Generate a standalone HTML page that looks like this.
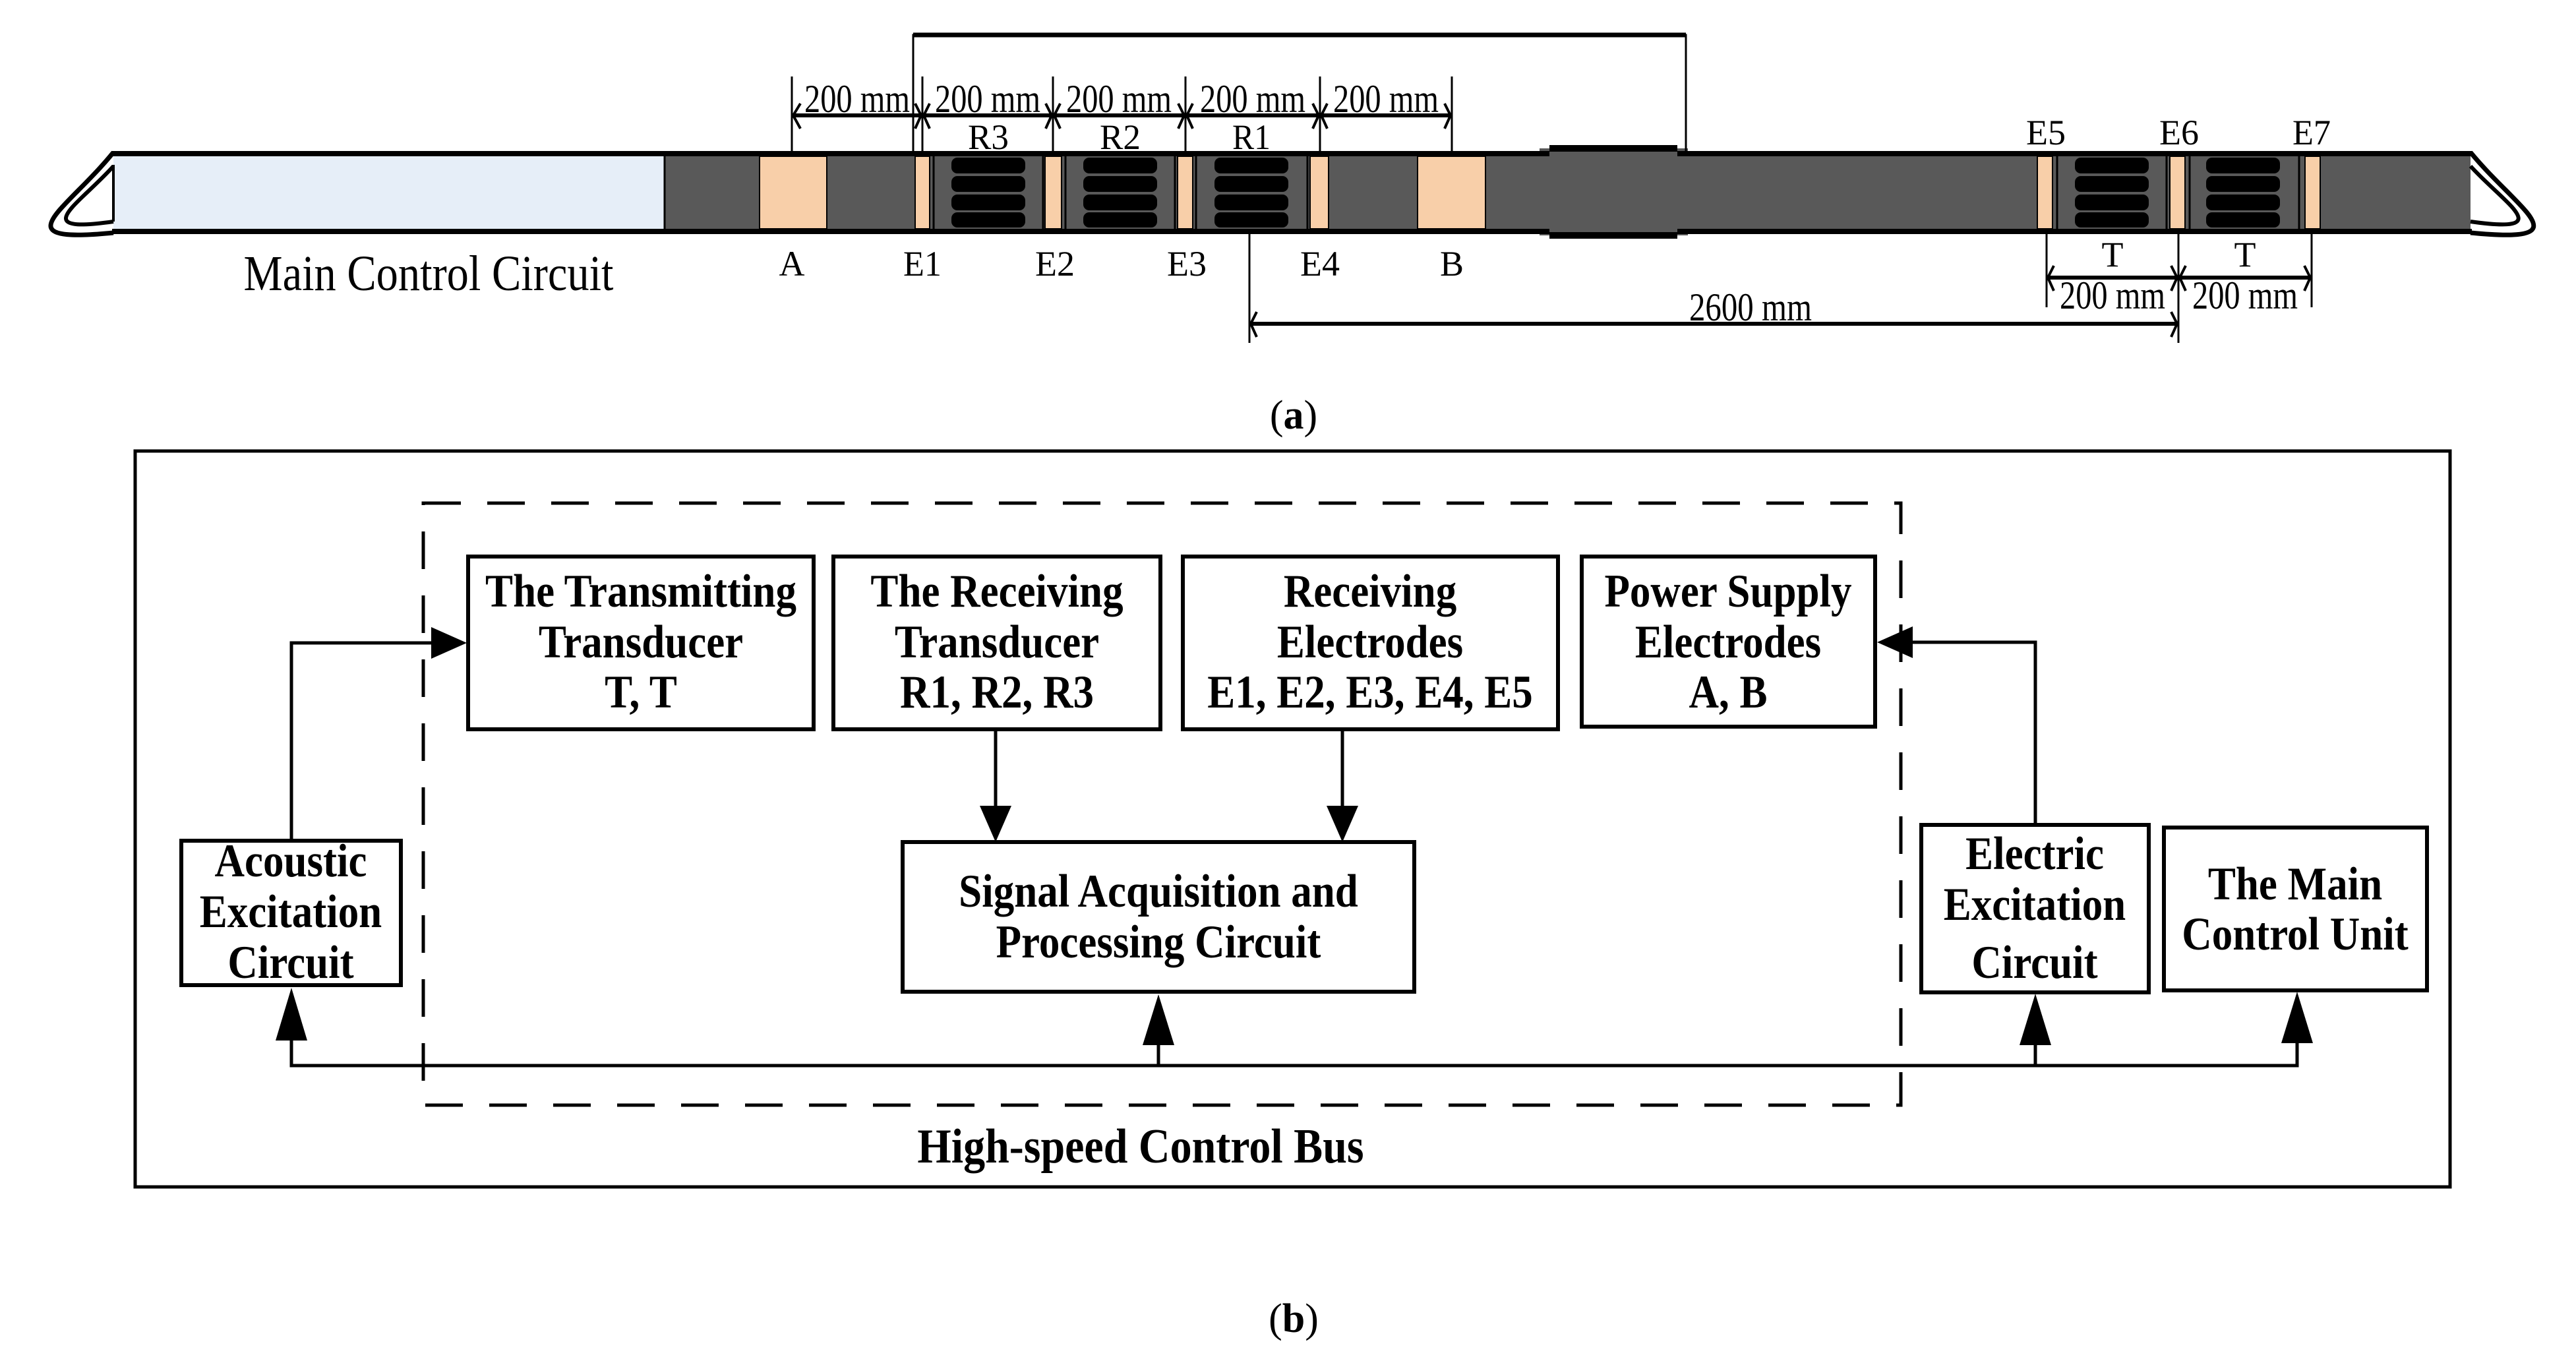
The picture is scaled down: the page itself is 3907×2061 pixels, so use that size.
<!DOCTYPE html>
<html><head><meta charset="utf-8"><style>html,body{margin:0;padding:0;background:#fff}svg{display:block}</style></head>
<body>
<svg width="3907" height="2061" viewBox="0 0 3907 2061" xmlns="http://www.w3.org/2000/svg" font-family="'Liberation Serif', serif">
<defs>
<g id="bars">
<rect x="-56" y="239" width="112" height="24" rx="9" fill="#000"/>
<rect x="-56" y="267" width="112" height="24" rx="9" fill="#000"/>
<rect x="-56" y="295" width="112" height="24" rx="9" fill="#000"/>
<rect x="-56" y="322" width="112" height="23" rx="9" fill="#000"/>
</g>
</defs>
<!-- (a) tube -->
<rect x="172" y="236" width="836" height="111" fill="#e6eef8"/>
<rect x="1008" y="236" width="2739" height="111" fill="#595959"/>
<rect x="2335" y="225" width="225" height="132" fill="#595959"/>
<rect x="2350" y="220" width="194" height="10" fill="#000"/>
<rect x="2350" y="352" width="194" height="10" fill="#000"/>
<rect x="170" y="229" width="2180" height="8" fill="#000"/>
<rect x="2544" y="229" width="1205" height="8" fill="#000"/>
<rect x="170" y="347" width="2180" height="8" fill="#000"/>
<rect x="2544" y="347" width="1205" height="8" fill="#000"/>
<g fill="#f8cfa9" stroke="#000" stroke-width="2">
<rect x="1152" y="237" width="102" height="110"/>
<rect x="1388" y="237" width="22" height="110"/>
<rect x="1585" y="237" width="25" height="110"/>
<rect x="1786" y="237" width="23" height="110"/>
<rect x="1987" y="237" width="28" height="110"/>
<rect x="2150" y="237" width="103" height="110"/>
<rect x="3090" y="237" width="23" height="110"/>
<rect x="3291" y="237" width="23" height="110"/>
<rect x="3496" y="237" width="23" height="110"/>
</g>
<g stroke="#000" stroke-width="3">
<line x1="1008" y1="237" x2="1008" y2="347"/>
<line x1="1416" y1="237" x2="1416" y2="347"/><line x1="1582" y1="237" x2="1582" y2="347"/>
<line x1="1616" y1="237" x2="1616" y2="347"/><line x1="1782" y1="237" x2="1782" y2="347"/>
<line x1="1814" y1="237" x2="1814" y2="347"/><line x1="1983" y1="237" x2="1983" y2="347"/>
<line x1="3120" y1="237" x2="3120" y2="347"/><line x1="3286" y1="237" x2="3286" y2="347"/>
<line x1="3321" y1="237" x2="3321" y2="347"/><line x1="3487" y1="237" x2="3487" y2="347"/>
</g>
<use href="#bars" x="1499"/><use href="#bars" x="1699"/><use href="#bars" x="1898"/>
<use href="#bars" x="3203"/><use href="#bars" x="3402"/>
<!-- noses -->
<g fill="none" stroke="#000">
<path d="M172,231 C100,320 0,370 172,353" stroke-width="7"/>
<path d="M172,252 C120,310 40,355 172,336" stroke-width="6"/>
<line x1="172" y1="250" x2="172" y2="336" stroke-width="4"/>
<path d="M3747,231 C3820,320 3920,370 3747,353" stroke-width="7"/>
<path d="M3747,252 C3800,310 3880,355 3747,336" stroke-width="6"/>
</g>
<!-- bracket -->
<g stroke="#000" fill="none">
<polyline points="1385,230 1385,53 2557,53 2557,230" stroke-width="3"/>
<line x1="1385" y1="53" x2="2557" y2="53" stroke-width="7"/>
<g stroke-width="3">
<line x1="1201" y1="116" x2="1201" y2="230"/><line x1="1399" y1="116" x2="1399" y2="230"/>
<line x1="1597" y1="116" x2="1597" y2="230"/><line x1="1798" y1="116" x2="1798" y2="230"/>
<line x1="2002" y1="116" x2="2002" y2="230"/><line x1="2202" y1="116" x2="2202" y2="230"/>
<line x1="1895" y1="354" x2="1895" y2="520"/><line x1="3304" y1="354" x2="3304" y2="520"/>
<line x1="3104" y1="354" x2="3104" y2="466"/><line x1="3506" y1="354" x2="3506" y2="466"/>
</g>
<line x1="1201" y1="175" x2="2202" y2="175" stroke-width="6"/>
<line x1="1895" y1="491" x2="3304" y2="491" stroke-width="6"/>
<line x1="3104" y1="421" x2="3506" y2="421" stroke-width="6"/>
<g stroke-width="4">
<path d="M1214,157 L1203,175 L1214,195"/>
<path d="M1388,157 L1397,175 L1388,195 M1410,157 L1401,175 L1410,195"/>
<path d="M1586,157 L1595,175 L1586,195 M1608,157 L1599,175 L1608,195"/>
<path d="M1787,157 L1796,175 L1787,195 M1809,157 L1800,175 L1809,195"/>
<path d="M1991,157 L2000,175 L1991,195 M2013,157 L2004,175 L2013,195"/>
<path d="M2191,157 L2200,175 L2191,195"/>
<path d="M1906,473 L1897,491 L1906,511 M3293,473 L3302,491 L3293,511"/>
<path d="M3115,403 L3106,421 L3115,441 M3293,403 L3302,421 L3293,441 M3315,403 L3306,421 L3315,441 M3495,403 L3504,421 L3495,441"/>
</g>
</g>
<g font-size="60" text-anchor="middle" fill="#000">
<text x="1300" y="170" textLength="160" lengthAdjust="spacingAndGlyphs">200 mm</text>
<text x="1498" y="170" textLength="160" lengthAdjust="spacingAndGlyphs">200 mm</text>
<text x="1697" y="170" textLength="160" lengthAdjust="spacingAndGlyphs">200 mm</text>
<text x="1900" y="170" textLength="160" lengthAdjust="spacingAndGlyphs">200 mm</text>
<text x="2102" y="170" textLength="160" lengthAdjust="spacingAndGlyphs">200 mm</text>
<text x="3204" y="468" textLength="160" lengthAdjust="spacingAndGlyphs">200 mm</text>
<text x="3405" y="468" textLength="160" lengthAdjust="spacingAndGlyphs">200 mm</text>
<text x="2655" y="486" textLength="186" lengthAdjust="spacingAndGlyphs">2600 mm</text>
</g>
<g font-size="54" text-anchor="middle" fill="#000">
<text x="1499" y="226" textLength="62" lengthAdjust="spacingAndGlyphs">R3</text><text x="1699" y="226" textLength="62" lengthAdjust="spacingAndGlyphs">R2</text><text x="1898" y="226" textLength="58" lengthAdjust="spacingAndGlyphs">R1</text>
<text x="1201" y="418">A</text><text x="1399" y="418" textLength="58" lengthAdjust="spacingAndGlyphs">E1</text><text x="1600" y="418" textLength="60" lengthAdjust="spacingAndGlyphs">E2</text>
<text x="1800" y="418" textLength="60" lengthAdjust="spacingAndGlyphs">E3</text><text x="2002" y="418" textLength="60" lengthAdjust="spacingAndGlyphs">E4</text><text x="2202" y="418">B</text>
<text x="3103" y="219" textLength="60" lengthAdjust="spacingAndGlyphs">E5</text><text x="3305" y="219" textLength="60" lengthAdjust="spacingAndGlyphs">E6</text><text x="3506" y="219" textLength="58" lengthAdjust="spacingAndGlyphs">E7</text>
<text x="3204" y="404">T</text><text x="3405" y="404">T</text>
<text x="650" y="440" font-size="76" textLength="561" lengthAdjust="spacingAndGlyphs">Main Control Circuit</text>
<text x="1962" y="650" font-size="62">(<tspan font-weight="bold">a</tspan>)</text>
<text x="1962" y="2020" font-size="62">(<tspan font-weight="bold">b</tspan>)</text>
</g>
<!-- (b) -->
<g fill="none" stroke="#000">
<rect x="205" y="684" width="3511" height="1116" stroke-width="5"/>
<rect x="642" y="763" width="2241" height="913" stroke-width="5" stroke-dasharray="57,40"/>
<g stroke-width="6">
<rect x="710" y="844" width="524" height="262"/>
<rect x="1264" y="844" width="496" height="262"/>
<rect x="1794" y="844" width="569" height="262"/>
<rect x="2399" y="844" width="445" height="258"/>
<rect x="275" y="1275" width="333" height="219"/>
<rect x="1369" y="1277" width="776" height="227"/>
<rect x="2914" y="1251" width="345" height="254"/>
<rect x="3282" y="1255" width="399" height="247"/>
</g>
<g stroke-width="5">
<polyline points="442,1275 442,975 660,975"/>
<polyline points="3087,1251 3087,974 2895,974"/>
<polyline points="442,1570 442,1616 3484,1616 3484,1555"/>
<line x1="1757" y1="1616" x2="1757" y2="1555"/>
<line x1="3087" y1="1616" x2="3087" y2="1555"/>
<line x1="1510" y1="1106" x2="1510" y2="1230"/>
<line x1="2036" y1="1106" x2="2036" y2="1230"/>
</g>
</g>
<g fill="#000">
<polygon points="708,975 654,951 654,999"/>
<polygon points="2847,974 2901,950 2901,998"/>
<polygon points="442,1498 418,1578 466,1578"/>
<polygon points="1757,1508 1733,1585 1781,1585"/>
<polygon points="3087,1507 3063,1585 3111,1585"/>
<polygon points="3484,1504 3460,1582 3508,1582"/>
<polygon points="1510,1277 1486,1222 1534,1222"/>
<polygon points="2036,1277 2012,1222 2060,1222"/>
</g>
<g font-size="63" font-weight="bold" text-anchor="middle" fill="#000">
<g transform="translate(972,920) scale(1,1.12)"><text>The Transmitting</text></g>
<g transform="translate(972,997) scale(1,1.12)"><text>Transducer</text></g>
<g transform="translate(972,1073) scale(1,1.12)"><text>T, T</text></g>
<g transform="translate(1512,920) scale(1,1.12)"><text>The Receiving</text></g>
<g transform="translate(1512,997) scale(1,1.12)"><text>Transducer</text></g>
<g transform="translate(1512,1073) scale(1,1.12)"><text>R1, R2, R3</text></g>
<g transform="translate(2078,920) scale(1,1.12)"><text>Receiving</text></g>
<g transform="translate(2078,997) scale(1,1.12)"><text>Electrodes</text></g>
<g transform="translate(2078,1073) scale(1,1.12)"><text>E1, E2, E3, E4, E5</text></g>
<g transform="translate(2621,920) scale(1,1.12)"><text>Power Supply</text></g>
<g transform="translate(2621,997) scale(1,1.12)"><text>Electrodes</text></g>
<g transform="translate(2621,1073) scale(1,1.12)"><text>A, B</text></g>
<g transform="translate(441,1329) scale(1,1.12)"><text>Acoustic</text></g>
<g transform="translate(441,1406) scale(1,1.12)"><text>Excitation</text></g>
<g transform="translate(441,1483) scale(1,1.12)"><text>Circuit</text></g>
<g transform="translate(1757,1375) scale(1,1.12)"><text>Signal Acquisition and</text></g>
<g transform="translate(1757,1452) scale(1,1.12)"><text>Processing Circuit</text></g>
<g transform="translate(3086,1318) scale(1,1.12)"><text>Electric</text></g>
<g transform="translate(3086,1395) scale(1,1.12)"><text>Excitation</text></g>
<g transform="translate(3086,1483) scale(1,1.12)"><text>Circuit</text></g>
<g transform="translate(3481,1364) scale(1,1.12)"><text>The Main</text></g>
<g transform="translate(3481,1440) scale(1,1.12)"><text>Control Unit</text></g>
<g transform="translate(1730,1763) scale(1,1.12)"><text font-size="66">High-speed Control Bus</text></g>
</g>
</svg>
</body></html>
